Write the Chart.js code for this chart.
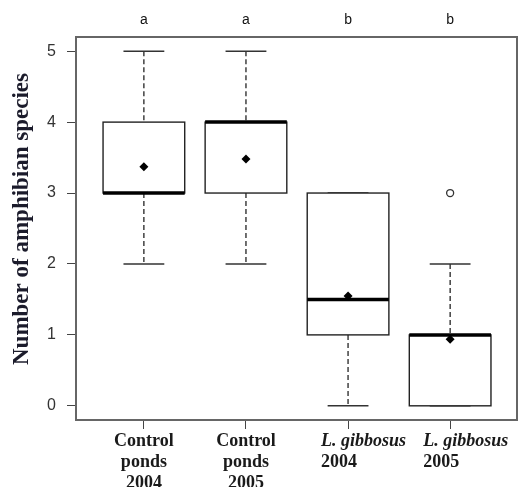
<!DOCTYPE html>
<html>
<head>
<meta charset="utf-8">
<script src="https://cdn.jsdelivr.net/npm/chart.js@4"></script>
<style>
  html, body { margin: 0; padding: 0; background: #fff; }
  #wrap { width: 518px; height: 487px; }
</style>
</head>
<body>
<div id="wrap"><canvas id="boxChart" width="518" height="487"></canvas></div>
<script>
// Boxplot : nombre d'espèces d'amphibiens par groupe de mares

const groupPos = [1, 2, 3, 4];
const labelLine1 = ["Control", "Control", "L. gibbosus", "L. gibbosus"];
const labelLine2 = ["ponds", "ponds", "2004", "2005"];
const labelLine3 = ["2004", "2005", "", ""];
const italicFirst = [false, false, true, true];
const letters = ["a", "a", "b", "b"];

const whiskerLow = [2, 2, 0, 0];
const q1 = [3, 3, 1, 0];
const median = [3, 4, 1.5, 1];
const q3 = [4, 4, 3, 1];
const whiskerHigh = [5, 5, 3, 2];
const means = [3.37, 3.48, 1.55, 0.94];
const outlierPos = [4];
const outlierVal = [3];

const yTicks = [0, 1, 2, 3, 4, 5];
const yTitle = "Number of amphibian species";

const SERIF = "'Liberation Serif', 'Times New Roman', serif";
const SANS = "'Liberation Sans', Arial, sans-serif";

const boxPlugin = {
  id: "boxes",
  beforeDatasetsDraw(chart) {
    const { ctx, scales: { x, y } } = chart;
    const halfBox = 0.4, halfCap = 0.2;
    ctx.save();
    groupPos.forEach((g, i) => {
      const xl = x.getPixelForValue(g - halfBox);
      const xr = x.getPixelForValue(g + halfBox);
      const xc = x.getPixelForValue(g);
      const cl = x.getPixelForValue(g - halfCap);
      const cr = x.getPixelForValue(g + halfCap);
      const yq1 = y.getPixelForValue(q1[i]);
      const yq3 = y.getPixelForValue(q3[i]);

      // moustaches en pointillés
      ctx.strokeStyle = "#111";
      ctx.lineWidth = 1.2;
      ctx.setLineDash([5, 3]);
      ctx.beginPath();
      if (whiskerHigh[i] > q3[i]) {
        ctx.moveTo(xc, y.getPixelForValue(whiskerHigh[i]));
        ctx.lineTo(xc, yq3);
      }
      if (whiskerLow[i] < q1[i]) {
        ctx.moveTo(xc, yq1);
        ctx.lineTo(xc, y.getPixelForValue(whiskerLow[i]));
      }
      ctx.stroke();
      ctx.setLineDash([]);

      // extrémités
      ctx.strokeStyle = "#333";
      ctx.lineWidth = 1.5;
      ctx.beginPath();
      [whiskerLow[i], whiskerHigh[i]].forEach((v) => {
        const yy = y.getPixelForValue(v);
        ctx.moveTo(cl, yy);
        ctx.lineTo(cr, yy);
      });
      ctx.stroke();

      // boîte
      ctx.fillStyle = "#fff";
      ctx.fillRect(xl, yq3, xr - xl, yq1 - yq3);
      ctx.strokeStyle = "#222";
      ctx.lineWidth = 1.4;
      ctx.strokeRect(xl, yq3, xr - xl, yq1 - yq3);

      // médiane
      const ym = y.getPixelForValue(median[i]);
      ctx.strokeStyle = "#000";
      ctx.lineWidth = 3.5;
      ctx.beginPath();
      ctx.moveTo(xl, ym);
      ctx.lineTo(xr, ym);
      ctx.stroke();
    });
    ctx.restore();
  },
  afterDraw(chart) {
    const { ctx, chartArea: a, scales: { x } } = chart;
    ctx.save();
    // cadre
    ctx.strokeStyle = "#666";
    ctx.lineWidth = 2;
    ctx.strokeRect(a.left, a.top, a.right - a.left, a.bottom - a.top);

    // lettres au-dessus
    ctx.fillStyle = "#111";
    ctx.font = "14px " + SANS;
    ctx.textAlign = "center";
    ctx.textBaseline = "alphabetic";
    groupPos.forEach((g, i) => {
      ctx.fillText(letters[i], x.getPixelForValue(g), 24);
    });

    // étiquettes de l'axe x
    ctx.fillStyle = "#1a1a1a";
    groupPos.forEach((g, i) => {
      const xc = x.getPixelForValue(g);
      ctx.font = (italicFirst[i] ? "italic bold " : "bold ") + "18px " + SERIF;
      if (italicFirst[i]) {
        // alignées à gauche, un peu avant le centre du groupe
        ctx.textAlign = "left";
        const x0 = xc - 27;
        ctx.fillText(labelLine1[i], x0, 446);
        ctx.font = "bold 18px " + SERIF;
        ctx.fillText(labelLine2[i], x0, 467);
      } else {
        ctx.textAlign = "center";
        ctx.fillText(labelLine1[i], xc, 446);
        ctx.fillText(labelLine2[i], xc, 467);
        ctx.fillText(labelLine3[i], xc, 488);
      }
    });

    // titre de l'axe y
    ctx.translate(28, 219);
    ctx.rotate(-Math.PI / 2);
    ctx.textAlign = "center";
    ctx.textBaseline = "alphabetic";
    ctx.fillStyle = "#1b1b2b";
    ctx.font = "bold 23px " + SERIF;
    ctx.fillText(yTitle, 0, 0);
    ctx.restore();
  },
};

const ctx = document.getElementById("boxChart");

new Chart(ctx, {
  type: "scatter",
  data: {
    datasets: [
      {
        label: "Moyenne",
        data: groupPos.map((g, i) => ({ x: g, y: means[i] })),
        pointStyle: "rectRot",
        pointRadius: 4.5,
        backgroundColor: "#000",
        borderColor: "#000",
        borderWidth: 0,
      },
      {
        label: "Valeur extrême",
        data: outlierPos.map((g, i) => ({ x: g, y: outlierVal[i] })),
        pointStyle: "circle",
        pointRadius: 3.5,
        backgroundColor: "#fff",
        borderColor: "#333",
        borderWidth: 1.3,
      },
    ],
  },
  options: {
    responsive: false,
    animation: false,
    layout: { autoPadding: false, padding: { top: 37, right: 1, left: 0, bottom: 0 } },
    plugins: {
      legend: { display: false },
      tooltip: { enabled: false },
    },
    scales: {
      x: {
        type: "linear",
        min: 0.335,
        max: 4.655,
        afterBuildTicks: (s) => { s.ticks = groupPos.map((v) => ({ value: v })); },
        afterFit: (s) => { s.height = 67; },
        ticks: { display: false },
        grid: { drawOnChartArea: false, drawTicks: true, tickLength: 9, color: "#444" },
        border: { display: false },
      },
      y: {
        min: -0.2,
        max: 5.2,
        afterBuildTicks: (s) => { s.ticks = yTicks.map((v) => ({ value: v })); },
        afterFit: (s) => { s.width = 76; },
        ticks: {
          color: "#333",
          font: { family: SANS, size: 16 },
          padding: 11,
        },
        grid: { drawOnChartArea: false, drawTicks: true, tickLength: 9, color: "#444" },
        border: { display: false },
      },
    },
  },
  plugins: [boxPlugin],
});
</script>
</body>
</html>
